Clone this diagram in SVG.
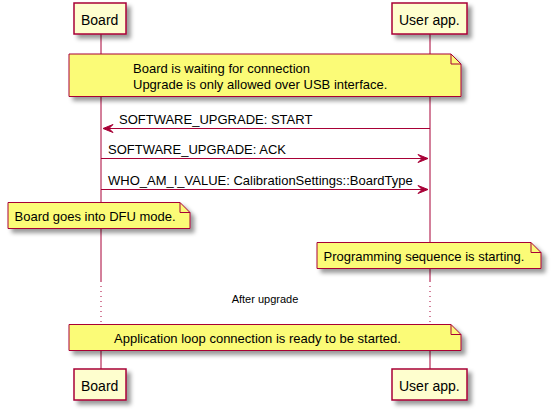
<svg xmlns="http://www.w3.org/2000/svg" width="551" height="411" viewBox="0 0 551 411">
<defs>
<filter id="sh" x="-1" y="-1" width="300%" height="300%">
<feGaussianBlur result="b" stdDeviation="2"/>
<feColorMatrix in="b" result="b2" type="matrix" values="0 0 0 0 0 0 0 0 0 0 0 0 0 0 0 0 0 0 .4 0"/>
<feOffset dx="4" dy="4" in="b2" result="b3"/>
<feBlend in="SourceGraphic" in2="b3" mode="normal"/>
</filter>
</defs>
<style>
text{font-family:"Liberation Sans",Arial,sans-serif;fill:#000}
.p{fill:#FEFECE;stroke:#A80036;stroke-width:1.5}
.pt{font-size:14px}
.n{fill:#FBFB77;stroke:#A80036;stroke-width:1}
.f{fill:none;stroke:#A80036;stroke-width:1}
.nt{font-size:13px}
.ll{stroke:#A80036;stroke-width:1;fill:none}
.dot{stroke:#A80036;stroke-width:1;stroke-dasharray:1,4;fill:none}
.m{stroke:#A80036;stroke-width:1;fill:none}
.ah{fill:#A80036;stroke:#A80036;stroke-width:1}
.mt{font-size:13px}
.dt{font-size:11px}
</style>
<g id="lifelines">
<line class="ll" x1="101" y1="34" x2="101" y2="281"/>
<line class="dot" x1="101" y1="281" x2="101" y2="324"/>
<line class="ll" x1="101" y1="324" x2="101" y2="369"/>
<line class="ll" x1="430" y1="34" x2="430" y2="281"/>
<line class="dot" x1="430" y1="281" x2="430" y2="324"/>
<line class="ll" x1="430" y1="324" x2="430" y2="369"/>
</g>
<g id="board-top"><rect class="p" filter="url(#sh)" x="74" y="3" width="52" height="31"/><text class="pt" x="81" y="25">Board</text></g>
<g id="userapp-top"><rect class="p" filter="url(#sh)" x="392" y="3" width="75" height="31"/><text class="pt" x="399" y="25">User app.</text></g>
<g id="board-bottom"><rect class="p" filter="url(#sh)" x="74" y="369" width="52" height="31"/><text class="pt" x="81" y="391">Board</text></g>
<g id="userapp-bottom"><rect class="p" filter="url(#sh)" x="392" y="369" width="75" height="31"/><text class="pt" x="399" y="391">User app.</text></g>
<g id="note-waiting">
<path class="n" filter="url(#sh)" d="M69,54 L69,96.5 L461,96.5 L461,64 L451,54 Z"/>
<path class="f" d="M451,54 L451,64 L461,64"/>
<text class="nt" x="133" y="73">Board is waiting for connection</text>
<text class="nt" x="133" y="88.5">Upgrade is only allowed over USB interface.</text>
</g>
<g id="connectors">
<line class="m" x1="103" y1="128.5" x2="430" y2="128.5"/>
<polygon class="ah" points="113,124.5 103,128.5 113,132.5 109,128.5"/>
<text class="mt" x="119" y="124">SOFTWARE_UPGRADE: START</text>
<line class="m" x1="101" y1="158.5" x2="428" y2="158.5"/>
<polygon class="ah" points="418,154.5 428,158.5 418,162.5 422,158.5"/>
<text class="mt" x="108" y="154">SOFTWARE_UPGRADE: ACK</text>
<line class="m" x1="101" y1="189.5" x2="428" y2="189.5"/>
<polygon class="ah" points="418,185.5 428,189.5 418,193.5 422,189.5"/>
<text class="mt" x="108" y="185">WHO_AM_I_VALUE: CalibrationSettings::BoardType</text>
</g>
<g id="note-dfu">
<path class="n" filter="url(#sh)" d="M8,202.5 L8,228.5 L190,228.5 L190,212.5 L180,202.5 Z"/>
<path class="f" d="M180,202.5 L180,212.5 L190,212.5"/>
<text class="nt" x="14.5" y="221">Board goes into DFU mode.</text>
</g>
<g id="note-programming">
<path class="n" filter="url(#sh)" d="M317,242.5 L317,268.5 L541,268.5 L541,252.5 L531,242.5 Z"/>
<path class="f" d="M531,242.5 L531,252.5 L541,252.5"/>
<text class="nt" x="323.5" y="261">Programming sequence is starting.</text>
</g>
<g id="delay"><text class="dt" x="265" y="303" text-anchor="middle">After upgrade</text></g>
<g id="note-ready">
<path class="n" filter="url(#sh)" d="M69,324.5 L69,350.5 L461,350.5 L461,334.5 L451,324.5 Z"/>
<path class="f" d="M451,324.5 L451,334.5 L461,334.5"/>
<text class="nt" x="114" y="343">Application loop connection is ready to be started.</text>
</g>
</svg>
